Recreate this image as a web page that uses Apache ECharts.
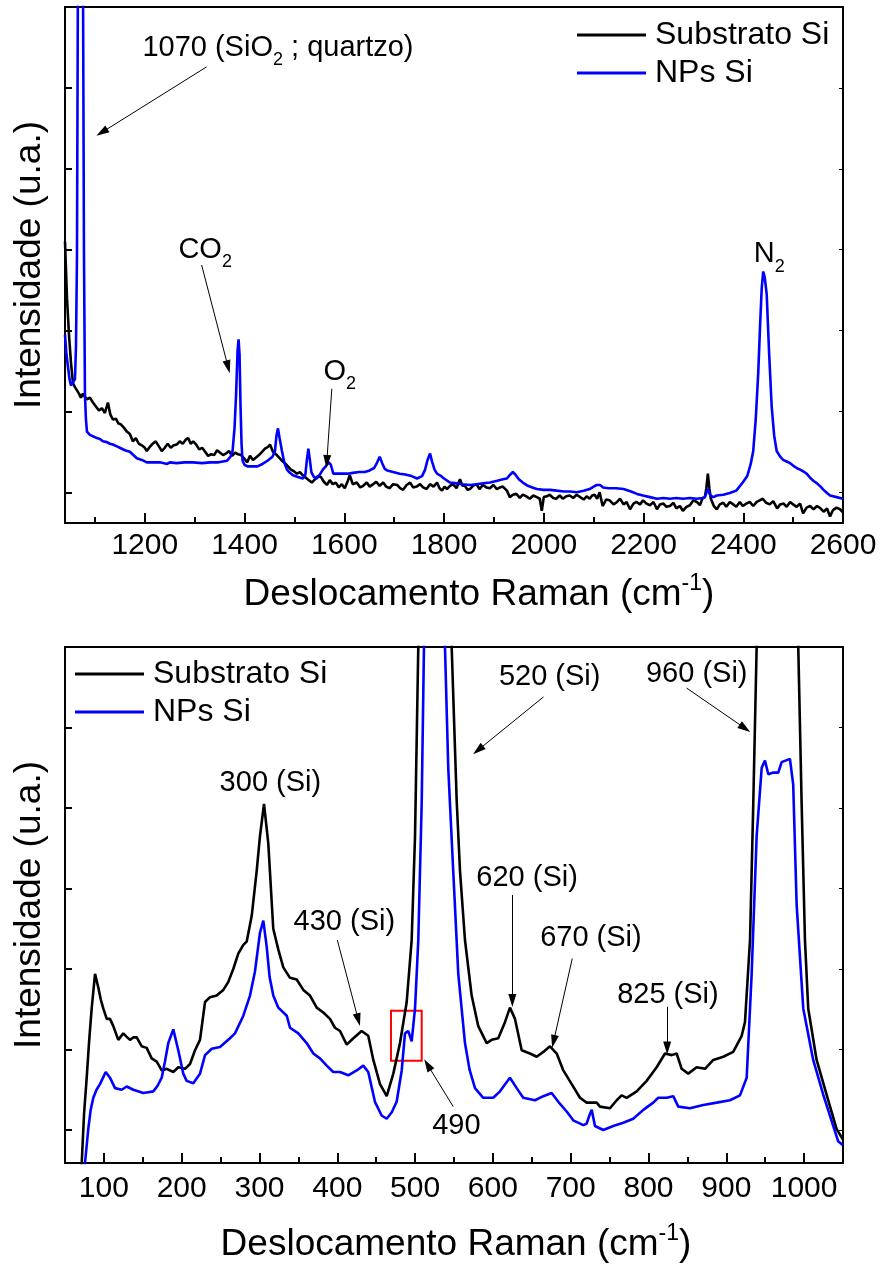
<!DOCTYPE html>
<html>
<head>
<meta charset="utf-8">
<script src="https://cdn.jsdelivr.net/npm/echarts@6/dist/echarts.min.js"></script>
<style>
html, body { margin: 0; padding: 0; background: #fff; }
#chart { width: 880px; height: 1267px; }
</style>
</head>
<body>
<div id="chart"></div>
<script>
const FONT = '"Liberation Sans", Arial, Helvetica, sans-serif';

// Raman shift (cm-1), intensity (a.u.) — upper panel, 1040–2600 cm-1
const topSubstrato = [
  [1040,3.10],[1044,2.40],[1048,1.95],[1052,1.60],[1056,1.35],[1060,1.30],[1064,1.29],[1068,1.22],[1072,1.17],[1076,1.22],
  [1080,1.18],[1084,1.15],[1090,1.17],[1096,1.11],[1102,1.06],[1108,1.01],[1114,1.04],[1120,0.98],[1126,1.11],[1131,0.96],
  [1136,0.90],[1142,0.91],[1147,0.85],[1152,0.84],[1158,0.80],[1164,0.75],[1170,0.72],[1176,0.63],[1182,0.67],[1188,0.60],
  [1194,0.58],[1200,0.55],[1204,0.51],[1210,0.56],[1216,0.60],[1222,0.63],[1228,0.57],[1234,0.51],[1240,0.55],[1246,0.60],
  [1252,0.55],[1258,0.58],[1264,0.59],[1270,0.63],[1276,0.60],[1282,0.65],[1287,0.67],[1292,0.60],[1297,0.63],[1303,0.59],
  [1309,0.53],[1315,0.55],[1321,0.50],[1327,0.45],[1333,0.47],[1339,0.46],[1345,0.52],[1351,0.49],[1357,0.46],[1363,0.48],
  [1369,0.51],[1375,0.45],[1381,0.49],[1387,0.47],[1393,0.46],[1399,0.42],[1405,0.37],[1411,0.45],[1417,0.40],[1423,0.43],
  [1429,0.46],[1435,0.50],[1441,0.54],[1447,0.56],[1451,0.59],[1457,0.50],[1463,0.47],[1469,0.43],[1475,0.39],[1481,0.36],
  [1487,0.32],[1493,0.28],[1499,0.26],[1505,0.23],[1511,0.25],[1517,0.21],[1523,0.18],[1529,0.15],[1535,0.12],[1541,0.16],
  [1547,0.20],[1553,0.19],[1559,0.13],[1565,0.09],[1571,0.15],[1577,0.10],[1583,0.12],[1589,0.06],[1595,0.10],[1601,0.05],
  [1607,0.14],[1611,0.21],[1617,0.10],[1625,0.12],[1632,0.06],[1638,0.08],[1645,0.12],[1651,0.07],[1658,0.10],[1664,0.13],
  [1671,0.08],[1678,0.12],[1684,0.07],[1691,0.05],[1698,0.10],[1706,0.09],[1712,0.05],[1718,0.03],[1725,0.09],[1732,0.12],
  [1738,0.06],[1745,0.07],[1752,0.10],[1758,0.06],[1765,0.04],[1772,0.10],[1779,0.07],[1786,0.12],[1791,0.05],[1796,0.02],
  [1801,0.07],[1806,0.04],[1812,0.08],[1818,0.10],[1825,0.05],[1832,0.16],[1837,0.08],[1842,0.08],[1847,0.03],[1852,0.04],
  [1858,0.08],[1865,0.10],[1871,0.04],[1878,0.09],[1885,0.06],[1892,0.05],[1899,0.09],[1906,0.04],[1912,0.06],[1918,0.07],
  [1926,0.02],[1932,-0.06],[1938,-0.03],[1945,-0.02],[1952,-0.07],[1958,-0.03],[1965,-0.05],[1972,-0.08],[1979,-0.04],[1986,-0.06],
  [1992,-0.08],[1996,-0.23],[2000,-0.06],[2006,-0.05],[2012,-0.03],[2019,-0.07],[2025,-0.08],[2032,-0.04],[2038,-0.08],[2045,-0.05],
  [2052,-0.04],[2059,-0.07],[2066,-0.03],[2073,-0.06],[2080,-0.09],[2086,-0.05],[2092,-0.08],[2097,-0.04],[2102,-0.03],[2107,-0.08],
  [2112,0.00],[2118,-0.17],[2125,-0.09],[2132,-0.10],[2140,-0.15],[2147,-0.12],[2153,-0.08],[2160,-0.15],[2166,-0.12],[2173,-0.21],
  [2180,-0.14],[2186,-0.12],[2193,-0.15],[2199,-0.10],[2206,-0.14],[2213,-0.16],[2220,-0.12],[2227,-0.21],[2233,-0.15],[2240,-0.14],
  [2246,-0.18],[2253,-0.17],[2260,-0.13],[2266,-0.20],[2273,-0.17],[2279,-0.23],[2286,-0.18],[2293,-0.16],[2300,-0.10],[2307,-0.12],
  [2313,-0.16],[2318,-0.08],[2323,-0.06],[2326,0.05],[2329,0.23],[2332,0.05],[2335,-0.08],[2341,-0.17],[2347,-0.21],[2353,-0.15],
  [2360,-0.13],[2366,-0.18],[2373,-0.12],[2380,-0.15],[2386,-0.18],[2393,-0.12],[2399,-0.17],[2406,-0.14],[2413,-0.12],[2420,-0.17],
  [2427,-0.12],[2433,-0.10],[2439,-0.08],[2446,-0.13],[2453,-0.15],[2460,-0.11],[2468,-0.20],[2474,-0.15],[2481,-0.14],[2487,-0.18],
  [2494,-0.12],[2500,-0.15],[2507,-0.18],[2514,-0.14],[2520,-0.26],[2527,-0.19],[2534,-0.17],[2541,-0.21],[2548,-0.17],[2555,-0.20],
  [2561,-0.24],[2568,-0.20],[2574,-0.30],[2580,-0.22],[2587,-0.19],[2594,-0.21],[2600,-0.25]
];

const topNPs = [
  [1040,1.95],[1043,1.70],[1046,1.55],[1049,1.40],[1052,1.32],[1056,1.33],[1060,1.40],[1062,1.80],[1064,2.90],[1066,6.50],
  [1071,20.0],[1076,6.50],[1078,3.00],[1080,1.21],[1082,0.90],[1084,0.75],[1090,0.71],[1097,0.69],[1104,0.67],[1110,0.66],
  [1116,0.63],[1124,0.62],[1130,0.60],[1136,0.59],[1143,0.57],[1150,0.55],[1160,0.52],[1170,0.50],[1177,0.46],[1184,0.42],
  [1194,0.40],[1204,0.37],[1217,0.37],[1230,0.37],[1245,0.35],[1250,0.37],[1264,0.36],[1280,0.37],[1297,0.37],[1315,0.36],
  [1331,0.37],[1348,0.37],[1365,0.39],[1372,0.44],[1376,0.51],[1380,0.80],[1383,1.20],[1386,1.75],[1388,1.89],[1390,1.70],
  [1392,1.05],[1394,0.60],[1396,0.39],[1400,0.34],[1406,0.32],[1416,0.32],[1426,0.32],[1436,0.35],[1446,0.39],[1456,0.44],
  [1461,0.51],[1464,0.70],[1467,0.79],[1470,0.68],[1475,0.51],[1480,0.36],[1485,0.28],[1491,0.24],[1497,0.21],[1507,0.19],
  [1517,0.17],[1522,0.22],[1525,0.40],[1528,0.54],[1531,0.40],[1534,0.25],[1539,0.19],[1545,0.17],[1551,0.22],[1557,0.28],
  [1564,0.33],[1569,0.37],[1573,0.34],[1578,0.23],[1587,0.23],[1597,0.23],[1607,0.23],[1617,0.24],[1630,0.25],[1641,0.25],
  [1651,0.27],[1660,0.30],[1666,0.37],[1671,0.44],[1676,0.36],[1681,0.29],[1686,0.27],[1698,0.25],[1711,0.23],[1722,0.22],
  [1735,0.20],[1746,0.17],[1756,0.20],[1762,0.28],[1767,0.40],[1772,0.48],[1776,0.38],[1781,0.28],[1786,0.23],[1792,0.21],
  [1800,0.17],[1812,0.12],[1825,0.11],[1838,0.10],[1852,0.09],[1865,0.10],[1878,0.11],[1892,0.12],[1905,0.14],[1918,0.16],
  [1926,0.17],[1933,0.22],[1938,0.25],[1943,0.22],[1950,0.16],[1958,0.12],[1968,0.08],[1977,0.06],[1986,0.04],[2000,0.03],
  [2013,0.03],[2026,0.02],[2040,0.01],[2053,0.01],[2066,0.00],[2080,0.02],[2092,0.04],[2100,0.07],[2106,0.09],[2113,0.09],
  [2119,0.06],[2130,0.05],[2145,0.05],[2160,0.04],[2175,0.01],[2187,-0.02],[2199,-0.04],[2213,-0.06],[2227,-0.08],[2240,-0.07],
  [2253,-0.08],[2266,-0.07],[2279,-0.08],[2293,-0.07],[2307,-0.08],[2318,-0.07],[2323,-0.06],[2329,0.04],[2334,-0.04],[2340,-0.06],
  [2347,-0.04],[2360,-0.03],[2373,-0.01],[2386,0.02],[2399,0.12],[2408,0.20],[2415,0.35],[2420,0.51],[2425,0.90],[2430,1.47],
  [2434,2.10],[2437,2.52],[2440,2.73],[2443,2.66],[2447,2.45],[2452,1.70],[2457,1.06],[2462,0.70],[2467,0.51],[2474,0.44],
  [2480,0.40],[2487,0.38],[2494,0.36],[2500,0.33],[2507,0.30],[2514,0.28],[2520,0.26],[2527,0.23],[2534,0.18],[2541,0.14],
  [2548,0.11],[2555,0.07],[2561,0.03],[2568,-0.01],[2574,-0.04],[2587,-0.06],[2600,-0.08]
];

// Lower panel, 50–1050 cm-1 (the 520 and 960 bands run far past the top of the frame)
const bottomSubstrato = [
  [60,-1.5],[71.5,-0.41],[74.5,0.20],[77.9,0.65],[81,1.10],[84.3,1.51],[88.6,1.94],[92.8,1.77],[96,1.62],[99.2,1.51],
  [103.6,1.38],[107.8,1.38],[112.1,1.29],[118.5,1.12],[124.9,1.20],[129,1.16],[133.5,1.12],[138,1.15],[142.2,1.15],[148.6,1.04],
  [155,1.02],[161.4,0.89],[167.9,0.85],[174.3,0.74],[180.7,0.76],[189.2,0.72],[195.6,0.78],[204.2,0.76],[210.7,0.82],[217.1,0.99],
  [223.5,1.12],[230,1.59],[236.4,1.65],[244.9,1.67],[253.5,1.74],[259.9,1.84],[266.3,2.00],[272.7,2.19],[279.2,2.30],[283.5,2.34],
  [290,2.66],[296.4,3.22],[300.6,3.65],[305.8,4.05],[311.3,3.56],[317.7,2.50],[324.2,2.24],[330.6,2.02],[339.2,1.89],[347.8,1.87],
  [356.3,1.74],[364.9,1.67],[373.5,1.52],[382,1.46],[390.6,1.38],[397,1.27],[403.5,1.23],[412.1,1.06],[420.6,1.14],[431.3,1.23],
  [439.8,1.17],[446.3,0.87],[454.9,0.57],[463.5,0.42],[472,0.70],[480.6,1.08],[489.2,1.59],[495.6,2.36],[499.9,3.65],[504.1,6.0],
  [520,40],[547,6.0],[553.5,4.08],[557.7,3.22],[564.1,2.36],[572.7,1.67],[581.2,1.29],[592,1.08],[598.4,1.12],[606.9,1.14],
  [615.5,1.34],[621.9,1.52],[628.4,1.38],[637,0.99],[647.6,0.95],[656.3,0.91],[664.8,0.97],[673.4,1.04],[682,0.95],[690.5,0.74],
  [701.3,0.57],[711.9,0.40],[720.5,0.34],[733.4,0.34],[737.6,0.29],[750.5,0.27],[759.1,0.37],[765.5,0.43],[771.9,0.40],[784.8,0.48],
  [797.6,0.61],[810.5,0.78],[821.2,0.95],[829.8,0.93],[836.2,0.95],[842.6,0.76],[851.1,0.70],[861.9,0.78],[872.6,0.76],[883.3,0.87],
  [896.1,0.91],[908.9,0.97],[919.8,1.17],[924,1.34],[930.5,2.36],[934.7,4.07],[939,6.0],[965,30],[992.5,6.0],[996.8,4.07],
  [1001.1,2.36],[1005.3,1.51],[1016.1,0.87],[1028.9,0.44],[1041.8,0.01],[1050,-0.12]
];

const bottomNPs = [
  [70,-1.5],[75.7,-0.41],[79.9,0.01],[83,0.25],[86.4,0.40],[90.5,0.50],[95,0.57],[102.3,0.72],[107.8,0.65],[114.3,0.52],
  [122.9,0.50],[129.3,0.54],[137.8,0.50],[150.6,0.46],[157,0.47],[163.5,0.48],[169,0.55],[174.3,0.65],[178.5,0.85],[182.8,1.08],
  [189.2,1.25],[195.6,0.99],[202,0.70],[206.4,0.61],[214.9,0.58],[223.5,0.70],[230,0.93],[238.6,1.01],[249.2,1.03],[262.1,1.14],
  [268.5,1.20],[279.2,1.42],[287.8,1.67],[294.2,1.97],[300.6,2.45],[304.9,2.60],[309.2,2.28],[313,1.90],[317.7,1.67],[324.2,1.52],
  [335,1.42],[339.2,1.27],[349.9,1.20],[360.6,1.08],[369.2,0.95],[377.7,0.89],[386.4,0.80],[394.8,0.72],[403.5,0.72],[414.1,0.68],
  [424.9,0.74],[433.4,0.80],[439.8,0.72],[448.4,0.35],[457,0.18],[463.5,0.14],[470,0.22],[476.3,0.35],[482.8,0.74],[487,1.20],
  [491.2,1.23],[495.6,1.10],[499.9,1.51],[504.1,2.36],[508.5,4.07],[511.4,6.0],[520,30],[538.4,6.0],[542.6,4.5],[549,3.22],
  [555.5,1.94],[564.1,1.08],[570,0.75],[577,0.52],[587.6,0.40],[600.5,0.40],[609.1,0.48],[615,0.56],[621.9,0.65],[630.6,0.52],
  [639,0.40],[654.1,0.37],[664.8,0.42],[675.5,0.46],[684.1,0.35],[694.8,0.23],[703.3,0.12],[716.2,0.06],[720.5,0.08],[724,0.18],
  [727,0.25],[731.2,0.05],[741.9,0.00],[754.7,0.05],[767.6,0.09],[780.4,0.14],[793.3,0.25],[806.1,0.34],[812.5,0.40],[823.4,0.40],
  [831.8,0.42],[838.3,0.29],[853.3,0.27],[870.4,0.31],[887.6,0.34],[904.7,0.37],[917.6,0.43],[926.2,0.65],[932.6,1.94],[939,3.65],
  [945.5,4.50],[949.7,4.59],[954,4.42],[960.3,4.44],[966.8,4.44],[971.1,4.57],[981.8,4.61],[986,4.29],[990.4,2.80],[998.9,1.51],
  [1011.7,0.87],[1024.6,0.44],[1037.4,0.05],[1043.8,-0.14],[1050,-0.19]
];

// Axis ticks
const topTicks = [1200, 1400, 1600, 1800, 2000, 2200, 2400, 2600];
const topMinorTicks = [1100, 1300, 1500, 1700, 1900, 2100, 2300, 2500];
const bottomTicks = [100, 200, 300, 400, 500, 600, 700, 800, 900, 1000];
const bottomMinorTicks = [150, 250, 350, 450, 550, 650, 750, 850, 950];
const yTicks = [0, 1, 2, 3, 4, 5];

const seriesNames = ['Substrato Si', 'NPs Si'];
const xTitle = [['Deslocamento Raman (cm', 'm'], ['-1', 'sup'], [')', 'm']];
const yTitle = 'Intensidade (u.a.)';

// Band labels: [text parts, centre in data units]
const topNotes = [
  { parts: [['1070 (SiO', 'm'], ['2', 'sub'], [' ; quartzo)', 'm']], at: [1467, 5.49] },
  { parts: [['CO', 'm'], ['2', 'sub']], at: [1321, 3.00] },
  { parts: [['O', 'm'], ['2', 'sub']], at: [1591, 1.49] },
  { parts: [['N', 'm'], ['2', 'sub']], at: [2452, 2.94] }
];
const bottomNotes = [
  { parts: [['300 (Si)', 'm']], at: [314, 4.31] },
  { parts: [['430 (Si)', 'm']], at: [409, 2.58] },
  { parts: [['520 (Si)', 'm']], at: [673, 5.63] },
  { parts: [['490', 'm']], at: [553, 0.05] },
  { parts: [['620 (Si)', 'm']], at: [644, 3.13] },
  { parts: [['670 (Si)', 'm']], at: [726, 2.39] },
  { parts: [['825 (Si)', 'm']], at: [825, 1.68] },
  { parts: [['960 (Si)', 'm']], at: [862, 5.66] }
];
// Arrows: [from, to] in data units
const topArrows = [
  [[1324, 5.26], [1114, 4.45]],
  [[1314, 2.81], [1367, 1.55]],
  [[1575, 1.28], [1565, 0.38]]
];
const bottomArrows = [
  [[400, 2.36], [427, 1.37]],
  [[665, 5.38], [581, 4.72]],
  [[549, 0.29], [516, 0.81]],
  [[625, 2.92], [625, 1.61]],
  [[702, 2.13], [678, 1.10]],
  [[824, 1.53], [824, 1.02]],
  [[849, 5.49], [924, 4.99]]
];
// Highlight box around the 490 cm-1 shoulder
const box490 = [[469, 1.48], [508.5, 0.86]];

const chart = echarts.init(document.getElementById('chart'), null, { renderer: 'canvas' });

const AXIS_LINE = { show: true, onZero: false, lineStyle: { color: '#000', width: 2 } };

function xMain(grid, min, max, ticks, margin) {
  return {
    type: 'value', gridIndex: grid, min, max, position: 'bottom',
    axisLine: AXIS_LINE,
    axisTick: { show: true, inside: true, length: 10, customValues: ticks, lineStyle: { color: '#000', width: 2 } },
    axisLabel: {
      show: true, customValues: ticks, fontSize: 30, color: '#000', fontFamily: FONT, margin,
      formatter: v => String(v)
    },
    splitLine: { show: false }
  };
}
function xMinor(grid, min, max, ticks) {
  return {
    type: 'value', gridIndex: grid, min, max, position: 'bottom',
    axisLine: { show: false, onZero: false },
    axisTick: { show: true, inside: true, length: 6, customValues: ticks, lineStyle: { color: '#000', width: 2 } },
    axisLabel: { show: false }, splitLine: { show: false }
  };
}
function xTop(grid, min, max) {
  return {
    type: 'value', gridIndex: grid, min, max, position: 'top',
    axisLine: AXIS_LINE, axisTick: { show: false }, axisLabel: { show: false }, splitLine: { show: false }
  };
}
function yAxisDef(grid, min, max, side, len) {
  return {
    type: 'value', gridIndex: grid, min, max, position: side,
    axisLine: AXIS_LINE,
    axisTick: { show: true, inside: true, length: len, customValues: yTicks, lineStyle: { color: '#000', width: side === 'left' ? 2 : 1 } },
    axisLabel: { show: false }, splitLine: { show: false }
  };
}

function lineSeries(name, data, xi, yi, color, extra) {
  return Object.assign({
    type: 'line', name, data, xAxisIndex: xi, yAxisIndex: yi,
    symbol: 'none', clip: true, silent: true, animation: false,
    lineStyle: { color, width: 2.6 }, itemStyle: { color }
  }, extra || {});
}

function arrowMarks(list) {
  return {
    silent: true, animation: false,
    symbol: ['none', 'triangle'], symbolSize: [8, 13],
    lineStyle: { color: '#000', width: 1, type: 'solid' },
    label: { show: false },
    emphasis: { disabled: true },
    data: list.map(a => [{ coord: a[0] }, { coord: a[1] }])
  };
}

const legendBase = {
  orient: 'vertical', selectedMode: false, data: seriesNames, padding: 0,
  icon: 'path://M0,0H69V3H0Z', itemWidth: 69, itemHeight: 3, itemGap: 6,
  textStyle: { fontSize: 32, lineHeight: 32, color: '#000', fontFamily: FONT, padding: [0, 0, 0, 4] }
};

chart.setOption({
  animation: false,
  backgroundColor: '#fff',
  grid: [
    { left: 65, top: 7, width: 778, height: 516 },
    { left: 65, top: 647, width: 778, height: 516 }
  ],
  xAxis: [
    xMain(0, 1040, 2600, topTicks, 8), xMinor(0, 1040, 2600, topMinorTicks), xTop(0, 1040, 2600),
    xMain(1, 50, 1050, bottomTicks, 11), xMinor(1, 50, 1050, bottomMinorTicks), xTop(1, 50, 1050)
  ],
  yAxis: [
    yAxisDef(0, -0.38, 6, 'left', 7), yAxisDef(0, -0.38, 6, 'right', 4),
    yAxisDef(1, -0.41, 6, 'left', 7), yAxisDef(1, -0.41, 6, 'right', 4)
  ],
  legend: [
    Object.assign({ left: 577, top: 19 }, legendBase),
    Object.assign({ left: 75, top: 658 }, legendBase)
  ],
  series: [
    lineSeries(seriesNames[0], topSubstrato, 0, 0, '#000', { markLine: arrowMarks(topArrows) }),
    lineSeries(seriesNames[1], topNPs, 0, 0, '#0000ff'),
    lineSeries(seriesNames[0], bottomSubstrato, 3, 2, '#000', { markLine: arrowMarks(bottomArrows) }),
    lineSeries(seriesNames[1], bottomNPs, 3, 2, '#0000ff', {
      markArea: {
        silent: true,
        itemStyle: { color: 'rgba(0,0,0,0)', borderColor: '#ff0000', borderWidth: 2 },
        data: [[{ coord: box490[0] }, { coord: box490[1] }]]
      }
    })
  ]
});

// Text with sub/superscripts, laid out piece by piece around a centre point
const measureCtx = document.createElement('canvas').getContext('2d');
function textWidth(str, size) {
  measureCtx.font = size + 'px ' + FONT;
  return measureCtx.measureText(str).width;
}
function compositeText(parts, cx, cy, size) {
  const sizes = parts.map(p => (p[1] === 'm' ? size : Math.round(size * 0.62)));
  const widths = parts.map((p, i) => textWidth(p[0], sizes[i]));
  const total = widths.reduce((a, b) => a + b, 0);
  let x = cx - total / 2;
  return parts.map((p, i) => {
    const dy = p[1] === 'sub' ? size * 0.42 : p[1] === 'sup' ? -size * 0.3 : 0;
    const el = {
      type: 'text', x, y: cy + dy, silent: true,
      style: { text: p[0], fontSize: sizes[i], fontFamily: FONT, fill: '#000', align: 'left', verticalAlign: 'middle' }
    };
    x += widths[i];
    return el;
  });
}

const graphics = [];
topNotes.forEach(n => {
  const p = chart.convertToPixel({ xAxisIndex: 0, yAxisIndex: 0 }, n.at);
  graphics.push(...compositeText(n.parts, p[0], p[1], 29));
});
bottomNotes.forEach(n => {
  const p = chart.convertToPixel({ xAxisIndex: 3, yAxisIndex: 2 }, n.at);
  graphics.push(...compositeText(n.parts, p[0], p[1], 29));
});
graphics.push(...compositeText(xTitle, 479, 595, 37));
graphics.push(...compositeText(xTitle, 456, 1245, 37));
[265, 905].forEach(cy => {
  graphics.push({
    type: 'text', x: 30, y: cy, rotation: Math.PI / 2, silent: true,
    style: { text: yTitle, fontSize: 37, fontFamily: FONT, fill: '#000', align: 'center', verticalAlign: 'middle' }
  });
});

chart.setOption({ graphic: graphics });
</script>
</body>
</html>
